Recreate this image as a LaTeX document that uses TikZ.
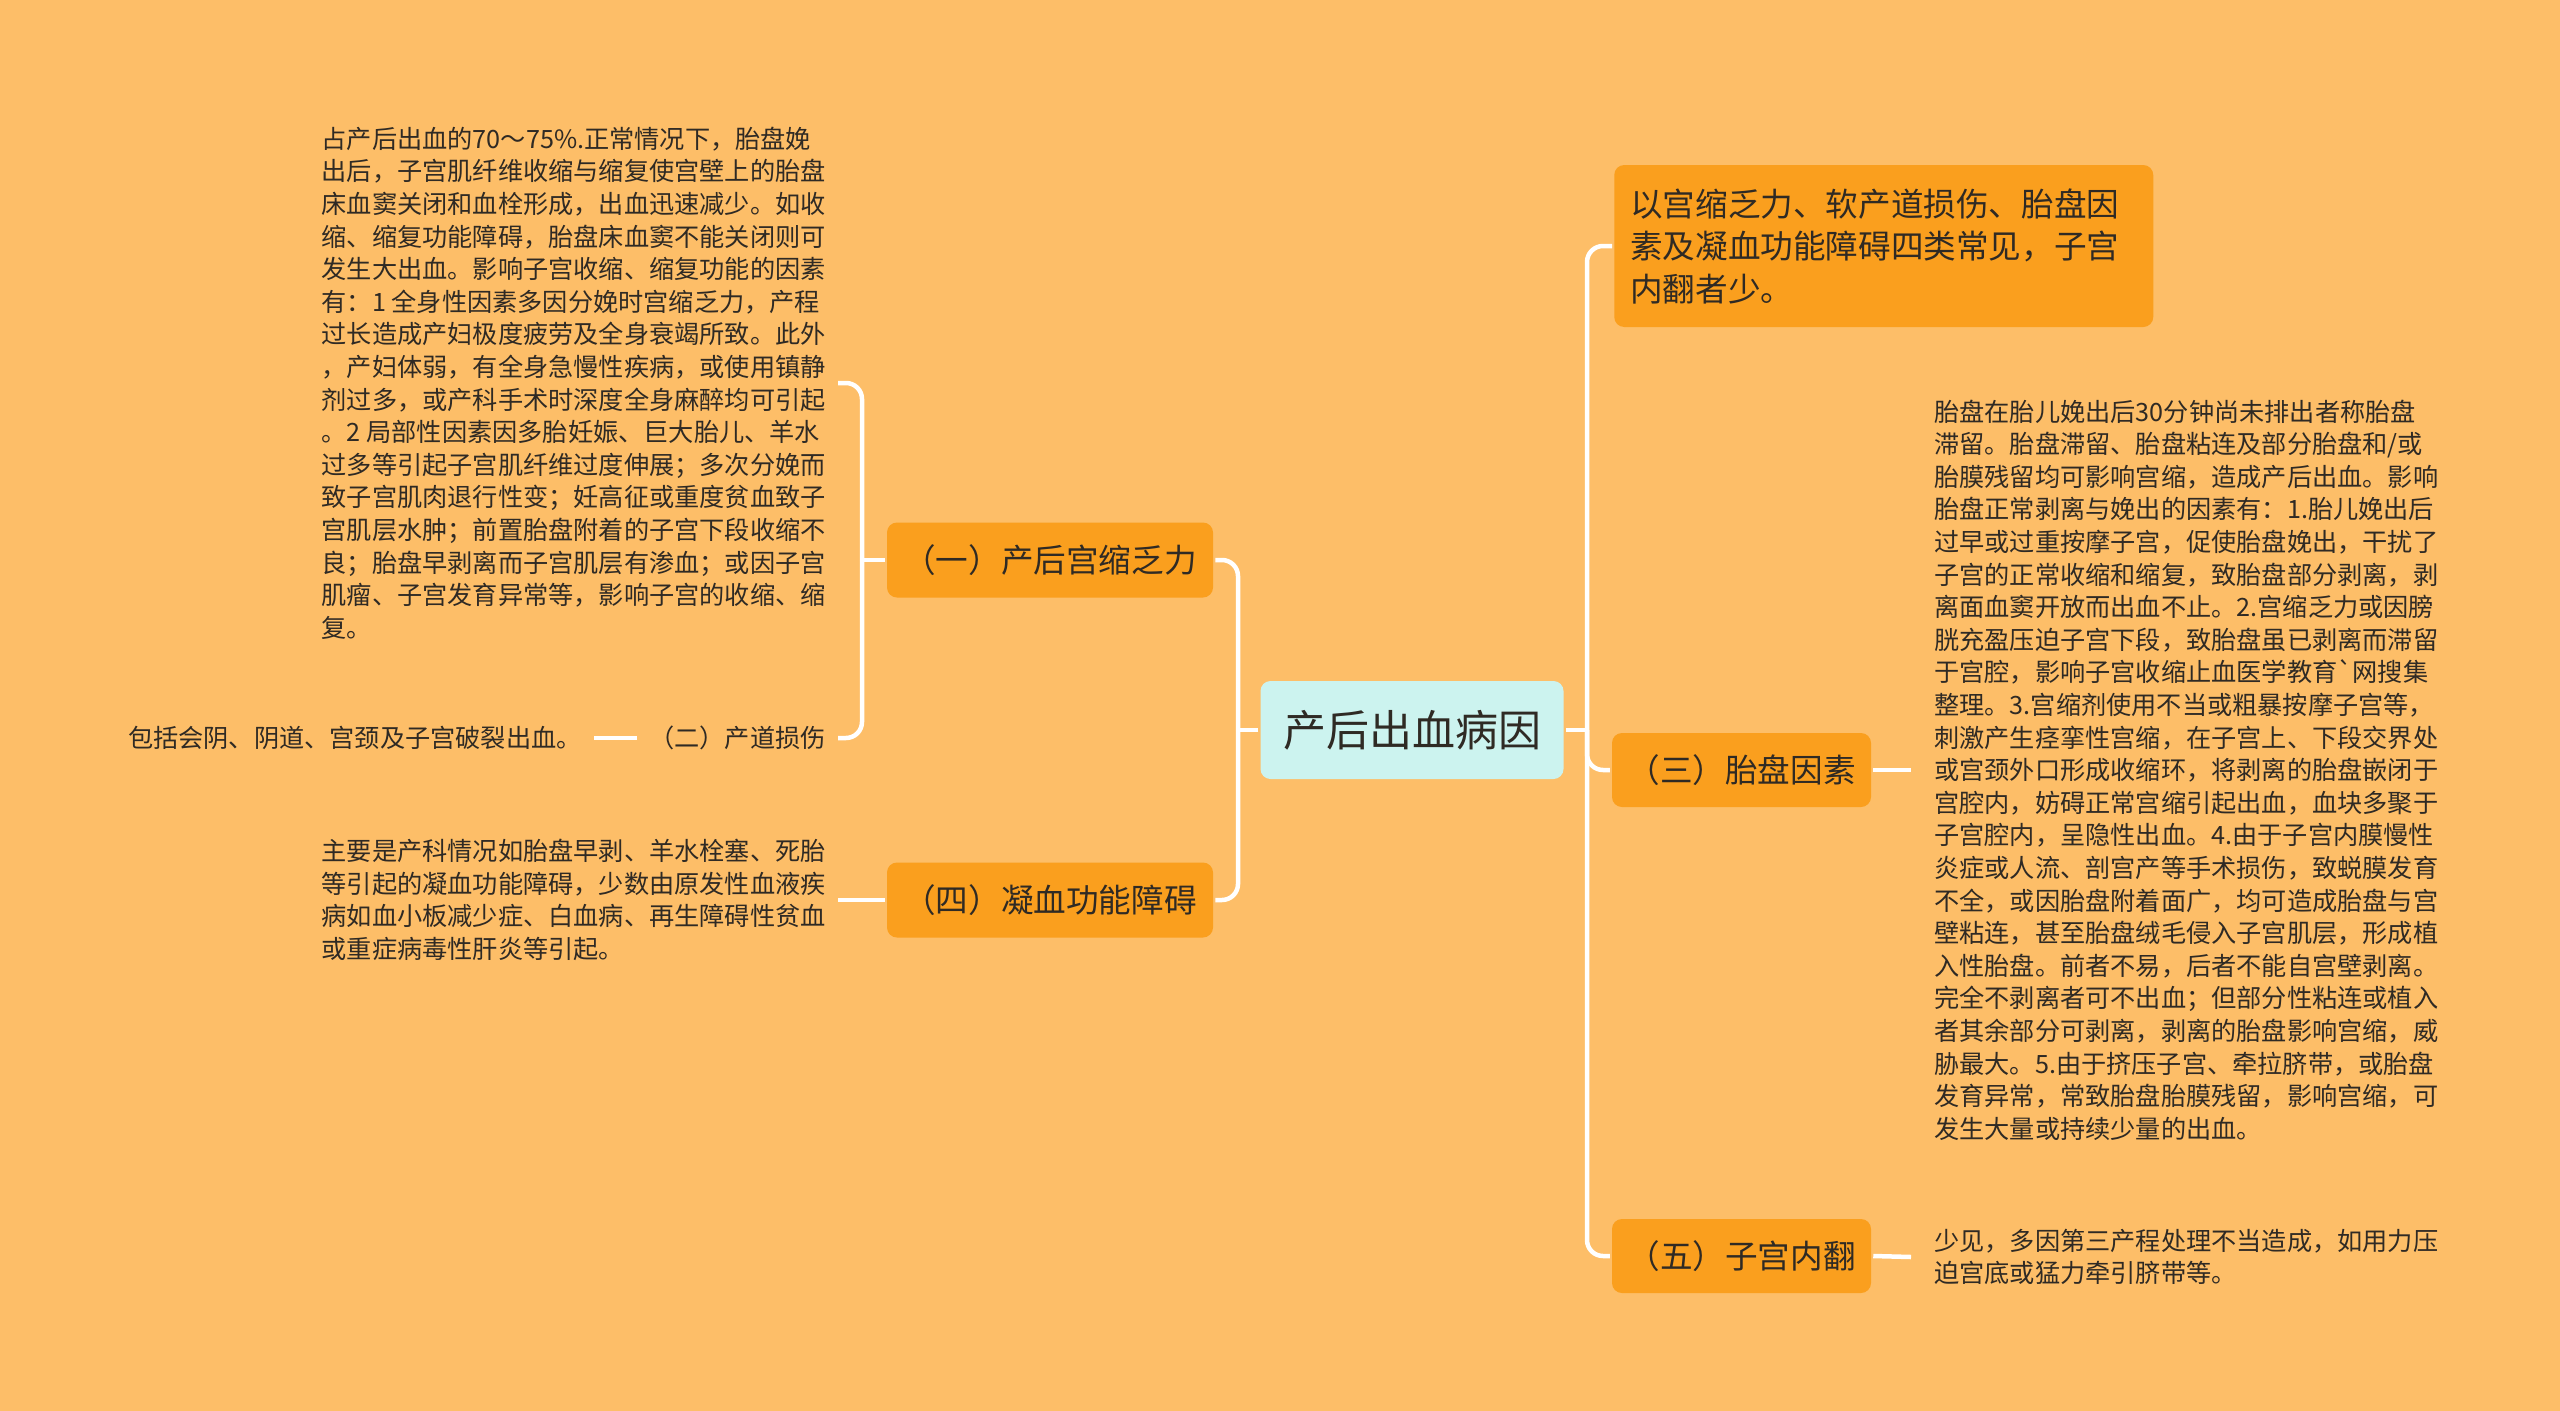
\documentclass[tikz,border=0pt]{standalone}
\usepackage{fontspec}
\setmainfont{Noto Sans CJK SC}
\definecolor{bg}{HTML}{FDBE68}
\definecolor{branch}{HTML}{FA9F1E}
\definecolor{rootfill}{HTML}{CCF3EF}
\definecolor{ink}{HTML}{2F2A24}
\newcommand{\gravetick}{\XeTeXglyph\XeTeXcharglyph"0060\relax}

\begin{document}
\begin{tikzpicture}[x=1pt,y=-1pt,line width=4.5pt,
  link/.style={draw=white,line width=4.5pt},
  elbow/.style={link,rounded corners=16pt},
  topic/.style={fill=branch,rounded corners=10pt,text=ink,inner sep=0pt,
    font=\fontsize{32.6}{42.5}\selectfont,minimum width=326pt,minimum height=75pt},
  note/.style={text=ink,font=\fontsize{25.2}{32.6}\selectfont,align=left,
    inner xsep=10pt,inner ysep=0pt}]
% ---------- 背景 ----------
\fill[bg] (0,0) rectangle (2560,1411);
\useasboundingbox (0,0) rectangle (2560,1411);
% ---------- 中心主题 ----------
\node[fill=rootfill,rounded corners=10pt,text=ink,inner sep=0pt,
  font=\fontsize{43}{50}\selectfont,minimum width=303pt,minimum height=98pt]
  (root) at (1412,730) {产后出血病因};
% ---------- 左侧分支 ----------
\node[topic] (c1) at (1050,560) {（一）产后宫缩乏力};
\node[topic] (c4) at (1050,900) {（四）凝血功能障碍};
\node[note,anchor=east] (c2) at (838,738) {（二）产道损伤};
\node[note,anchor=east] (n2) at (594,738) {包括会阴、阴道、宫颈及子宫破裂出血。};
\node[note,anchor=east] (n1) at (838,383) {占产后出血的70～75\%.正常情况下，胎盘娩\\
出后，子宫肌纤维收缩与缩复使宫壁上的胎盘\\
床血窦关闭和血栓形成，出血迅速减少。如收\\
缩、缩复功能障碍，胎盘床血窦不能关闭则可\\
发生大出血。影响子宫收缩、缩复功能的因素\\
有：1 全身性因素多因分娩时宫缩乏力，产程\\
过长造成产妇极度疲劳及全身衰竭所致。此外\\
，产妇体弱，有全身急慢性疾病，或使用镇静\\
剂过多，或产科手术时深度全身麻醉均可引起\\
。2 局部性因素因多胎妊娠、巨大胎儿、羊水\\
过多等引起子宫肌纤维过度伸展；多次分娩而\\
致子宫肌肉退行性变；妊高征或重度贫血致子\\
宫肌层水肿；前置胎盘附着的子宫下段收缩不\\
良；胎盘早剥离而子宫肌层有渗血；或因子宫\\
肌瘤、子宫发育异常等，影响子宫的收缩、缩\\
复。};
\node[note,anchor=east] (n4) at (838,900) {主要是产科情况如胎盘早剥、羊水栓塞、死胎\\
等引起的凝血功能障碍，少数由原发性血液疾\\
病如血小板减少症、白血病、再生障碍性贫血\\
或重症病毒性肝炎等引起。};
% ---------- 右侧分支 ----------
\node[topic,anchor=west,align=left,text width=507pt,inner xsep=16pt,
  minimum width=0pt,minimum height=162pt] (top) at (1612,246)
  {以宫缩乏力、软产道损伤、胎盘因\\素及凝血功能障碍四类常见，子宫\\内翻者少。};
\node[topic,minimum width=259pt,minimum height=74pt] (c3) at (1741.5,770) {（三）胎盘因素};
\node[topic,minimum width=259pt,minimum height=74pt] (c5) at (1741.5,1256) {（五）子宫内翻};
\node[note,anchor=west,inner xsep=21pt] (n3) at (1911,770) {胎盘在胎儿娩出后30分钟尚未排出者称胎盘\\
滞留。胎盘滞留、胎盘粘连及部分胎盘和/或\\
胎膜残留均可影响宫缩，造成产后出血。影响\\
胎盘正常剥离与娩出的因素有：1.胎儿娩出后\\
过早或过重按摩子宫，促使胎盘娩出，干扰了\\
子宫的正常收缩和缩复，致胎盘部分剥离，剥\\
离面血窦开放而出血不止。2.宫缩乏力或因膀\\
胱充盈压迫子宫下段，致胎盘虽已剥离而滞留\\
于宫腔，影响子宫收缩止血医学教育\gravetick 网搜集\\
整理。3.宫缩剂使用不当或粗暴按摩子宫等，\\
刺激产生痉挛性宫缩，在子宫上、下段交界处\\
或宫颈外口形成收缩环，将剥离的胎盘嵌闭于\\
宫腔内，妨碍正常宫缩引起出血，血块多聚于\\
子宫腔内，呈隐性出血。4.由于子宫内膜慢性\\
炎症或人流、剖宫产等手术损伤，致蜕膜发育\\
不全，或因胎盘附着面广，均可造成胎盘与宫\\
壁粘连，甚至胎盘绒毛侵入子宫肌层，形成植\\
入性胎盘。前者不易，后者不能自宫壁剥离。\\
完全不剥离者可不出血；但部分性粘连或植入\\
者其余部分可剥离，剥离的胎盘影响宫缩，威\\
胁最大。5.由于挤压子宫、牵拉脐带，或胎盘\\
发育异常，常致胎盘胎膜残留，影响宫缩，可\\
发生大量或持续少量的出血。};
\node[note,anchor=west,inner xsep=21pt] (n5) at (1911,1257) {少见，多因第三产程处理不当造成，如用力压\\
迫宫底或猛力牵引脐带等。};
% ---------- 连线 ----------
\coordinate (jL) at (1238,730);
\coordinate (jR) at (1587,730);
\coordinate (j1) at (862,560);
\draw[link] (root.west) -- (jL);
\draw[elbow] (jL) |- (c1.east);
\draw[elbow] (jL) |- (c4.east);
\draw[link] (root.east) -- (jR);
\foreach \kid in {top,c3,c5}
  \draw[elbow] (jR) |- (\kid.west);
\draw[link] (c1.west) -- (j1);
\draw[elbow] (j1) |- (n1.east);
\draw[elbow] (j1) |- (c2.east);
\draw[link] (c2.west) -- (n2.east);
\draw[link] (c4.west) -- (n4.east);
\draw[link] (c3.east) -- (n3.west);
\draw[link] (c5.east) -- (n5.west);
\end{tikzpicture}
\end{document}
